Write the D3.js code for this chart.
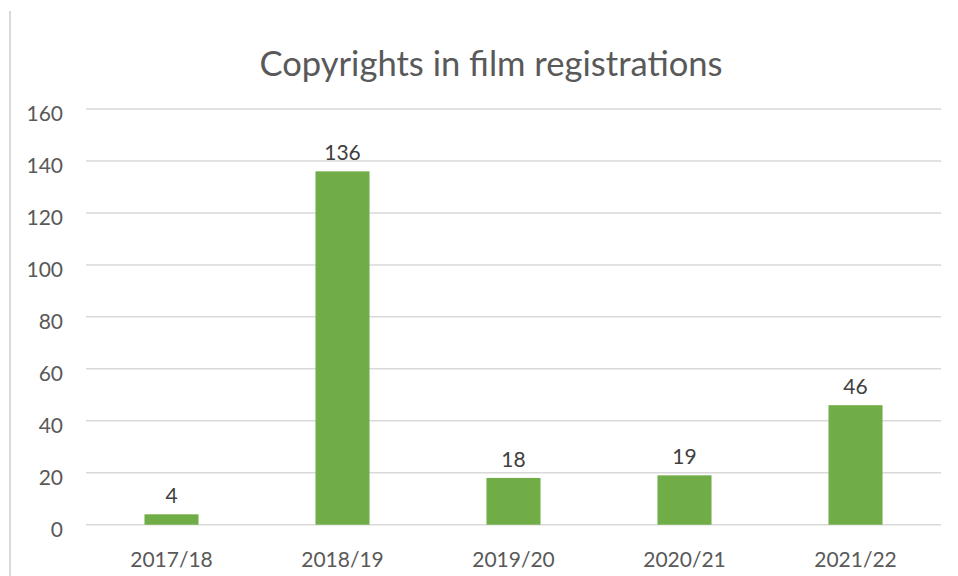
<!DOCTYPE html>
<html>
<head>
<meta charset="utf-8">
<script src="https://cdn.jsdelivr.net/npm/d3@7"></script>
<style>
  body { margin: 0; background: #fff; }
  svg { display: block; font-family: Lato, "Open Sans", sans-serif; }
</style>
</head>
<body>
<svg id="chart" width="958" height="576"></svg>
<script>
var categories = ["2017/18", "2018/19", "2019/20", "2020/21", "2021/22"];
var values = [4, 136, 18, 19, 46];
var yTicks = [0, 20, 40, 60, 80, 100, 120, 140, 160];
var title = "Copyrights in film registrations";

var svg = d3.select("#chart");
var plot = { left: 86, right: 941, top: 109, bottom: 524.7 };

//outer frame line on the left
svg.append("line")
    .attr("x1", 10).attr("x2", 10)
    .attr("y1", 11).attr("y2", 576)
    .attr("stroke", "#d9d9d9")
    .attr("stroke-width", 2);

var x = d3.scaleBand()
    .domain(categories)
    .range([plot.left, plot.right])
    .paddingInner(0.684)
    .paddingOuter(0.342);

var y = d3.scaleLinear()
    .domain([0, 160])
    .range([plot.bottom, plot.top]);

//gridlines
svg.append("g")
    .selectAll("line")
    .data(yTicks)
    .enter().append("line")
    .attr("x1", plot.left).attr("x2", plot.right)
    .attr("y1", function (d) { return y(d); })
    .attr("y2", function (d) { return y(d); })
    .attr("stroke", "#d9d9d9")
    .attr("stroke-width", 1.5);

//y axis labels
var yAxis = svg.append("g")
    .attr("transform", "translate(" + plot.left + ",5)")
    .call(d3.axisLeft(y).tickValues(yTicks).tickSize(0).tickPadding(23));
yAxis.select(".domain").remove();
yAxis.selectAll("text")
    .attr("fill", "#595959")
    .style("font-size", "21px")
    .style("font-family", "Lato, 'Open Sans', sans-serif");

//x axis labels
var xAxis = svg.append("g")
    .attr("transform", "translate(0," + plot.bottom + ")")
    .call(d3.axisBottom(x).tickSize(0).tickPadding(27));
xAxis.select(".domain").remove();
xAxis.selectAll("text")
    .attr("fill", "#595959")
    .style("font-size", "21px")
    .style("font-family", "Lato, 'Open Sans', sans-serif");

var data = categories.map(function (c, i) { return { cat: c, val: values[i] }; });

//bars
svg.selectAll(".bar")
    .data(data)
    .enter().append("rect")
    .attr("class", "bar")
    .attr("x", function (d) { return x(d.cat); })
    .attr("width", x.bandwidth())
    .attr("y", function (d) { return y(d.val); })
    .attr("height", function (d) { return y(0) - y(d.val); })
    .attr("fill", "#70ad47");

//data labels
svg.selectAll(".lbl")
    .data(data)
    .enter().append("text")
    .attr("class", "lbl")
    .attr("x", function (d) { return x(d.cat) + x.bandwidth() / 2; })
    .attr("y", function (d) { return y(d.val) - 11; })
    .attr("text-anchor", "middle")
    .attr("fill", "#404040")
    .style("font-size", "21px")
    .text(function (d) { return d.val; });

svg.append("text")
    .attr("x", 491)
    .attr("y", 76)
    .attr("text-anchor", "middle")
    .attr("fill", "#595959")
    .style("font-size", "34.6px")
    .text(title);
</script>
</body>
</html>
